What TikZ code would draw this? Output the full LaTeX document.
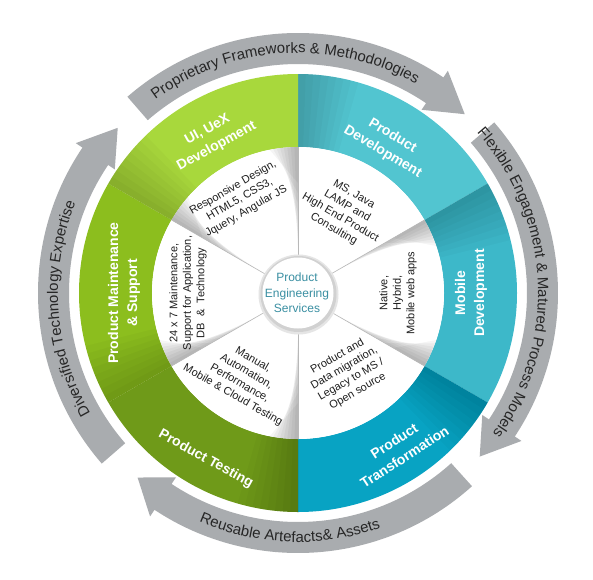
\documentclass[tikz,border=0pt]{standalone}
\usepackage{fontspec}
\setmainfont{Liberation Sans}
\usetikzlibrary{decorations.text}
\definecolor{uigreen}{HTML}{A8D83C}
\definecolor{mgreen}{HTML}{8CBE1E}
\definecolor{tgreen}{HTML}{6F9A19}
\definecolor{pdteal}{HTML}{52C5D0}
\definecolor{mteal}{HTML}{3DB8C9}
\definecolor{trteal}{HTML}{08A3C3}
\definecolor{arrgray}{HTML}{A9ACAF}
\definecolor{centtext}{HTML}{3A8FA2}
\definecolor{inktext}{HTML}{1E1E1E}
\newcommand\arrfont{\fontsize{15pt}{18pt}\selectfont}
\newcommand\ringseg[3]{%
  \fill[#3] (#1:219pt) arc[start angle=#1, end angle=#2, radius=219pt]
    -- (#2:146pt) arc[start angle=#2, end angle=#1, radius=146pt] -- cycle;
  \foreach \k in {1,...,8}{%
    \fill[black, fill opacity=0.022] ({#2-2*\k}:219pt) arc[start angle={#2-2*\k}, end angle=#2, radius=219pt]
      -- (#2:146pt) arc[start angle=#2, end angle={#2-2*\k}, radius=146pt] -- cycle;}%
}
\newcommand\grayarrow[3]{%
  \fill[arrgray] (#1:260pt) arc[start angle=#1, end angle=#2, radius=260pt]
    -- (#2:268pt) -- (#3:244.5pt) -- (#2:221pt) -- (#2:229pt)
    arc[start angle=#2, end angle=#1, radius=229pt] -- cycle;}
\newcommand\spokefold[2]{%
  \foreach \k in {1,...,8}{%
    \fill[black, fill opacity=0.04] (#1:{30pt+10pt*\k}) -- (#1:146pt)
      arc[start angle=#1, end angle={#1+#2*1.4*\k}, radius=146pt] -- cycle;}%
  \draw[black!28, line width=0.6pt] (#1:36pt) -- (#1:146pt);
}
\tikzset{
  ringlabel/.style={text=white, font=\bfseries\fontsize{14pt}{19pt}\selectfont, align=center, inner sep=0pt},
  innertext/.style={text=inktext, font=\fontsize{11pt}{13.5pt}\selectfont, align=center, inner sep=0pt},
  centerlabel/.style={text=centtext, font=\fontsize{12pt}{15.5pt}\selectfont, align=center, inner sep=0pt},
}
\begin{document}
\begin{tikzpicture}
\useasboundingbox (-298pt,-286pt) rectangle (295pt,293pt);
\fill[white] (-298pt,-286pt) rectangle (295pt,293pt);

% gray arrows
\grayarrow{131}{56}{47}
\grayarrow{41}{-33.5}{-42}
\grayarrow{-48}{-123.5}{-131}
\grayarrow{221}{146}{137.5}

% arrow texts
\path[decorate, decoration={text along path, text align=center, text color=black!85,
   text={|\arrfont|Proprietary Frameworks {\&} Methodologies}}]
   (163.5:240pt) arc[start angle=163.5, end angle=23.5, radius=240pt];
\path[decorate, decoration={text along path, text align=center, text color=black!85,
   text={|\arrfont|Flexible Engagement {\&} Matured Process Models}}]
   (75:240pt) arc[start angle=75, end angle=-69, radius=240pt];
\path[decorate, decoration={text along path, text align=center, text color=black!85,
   text={|\arrfont|Diversified Technology Expertise}}]
   (254:240pt) arc[start angle=254, end angle=114, radius=240pt];
\path[decorate, decoration={text along path, text align=center, text color=black!85,
   text={|\arrfont|Reusable Artefacts{\&} Assets}}]
   (-162:249pt) arc[start angle=-162, end angle=-22, radius=249pt];

% colored ring
\ringseg{30}{90}{pdteal}
\ringseg{-30}{30}{mteal}
\ringseg{-90}{-30}{trteal}
\ringseg{-150}{-90}{tgreen}
\ringseg{150}{210}{mgreen}
\ringseg{90}{150}{uigreen}

% white inner disc
\fill[white] (0,0) circle (146pt);
\spokefold{90}{1}
\spokefold{150}{-1}
\spokefold{30}{-1}
\spokefold{-30}{1}
\spokefold{-90}{-1}
\spokefold{-150}{-1}

% center circle
\fill[black!10] (0.5pt,-1.5pt) circle (40pt);
\fill[black!18] (0.5pt,-1pt) circle (38pt);
\fill[white] (0,0) circle (35.5pt);
\node[centerlabel] (pes) at (-1pt,0pt) {Product\\Engineering\\Services};

% ring labels
\node[ringlabel, rotate=29] (ui) at (119:177pt) {UI, UeX\\Development};
\node[ringlabel, rotate=-31] (pd) at (59:174pt) {Product\\Development};
\node[ringlabel, rotate=90] (md) at (0:173pt) {Mobile\\Development};
\node[ringlabel, rotate=33] (pt) at (-57:186pt) {Product\\Transformation};
\node[ringlabel, rotate=-29] (ptest) at (-119:190pt) {Product Testing};
\node[ringlabel, rotate=90] (pm) at (180:174pt) {Product Maintenance\\\& Support};

% inner texts
\node[innertext, rotate=30] (resp) at (122:110pt) {Responsive Design,\\HTML5, CSS3,\\Jquery, Angular JS};
\node[innertext, rotate=-30] (ms) at (60.5:93pt) {MS, Java\\LAMP and\\High End Product\\Consulting};
\node[innertext, rotate=90] (nat) at (0:100pt) {Native,\\Hybrid,\\Mobile web apps};
\node[innertext, rotate=30] (pad) at (-58.5:95pt) {Product and\\Data migration,\\Legacy to MS /\\Open source};
\node[innertext, rotate=-30] (man) at (-123:101pt) {Manual,\\Automation,\\Performance,\\Mobile \& Cloud Testing};
\node[innertext, rotate=90] (maint) at (180:110pt) {24 x 7 Maintenance,\\Support for Application,\\DB~~\&~~Technology};
\end{tikzpicture}
\end{document}
